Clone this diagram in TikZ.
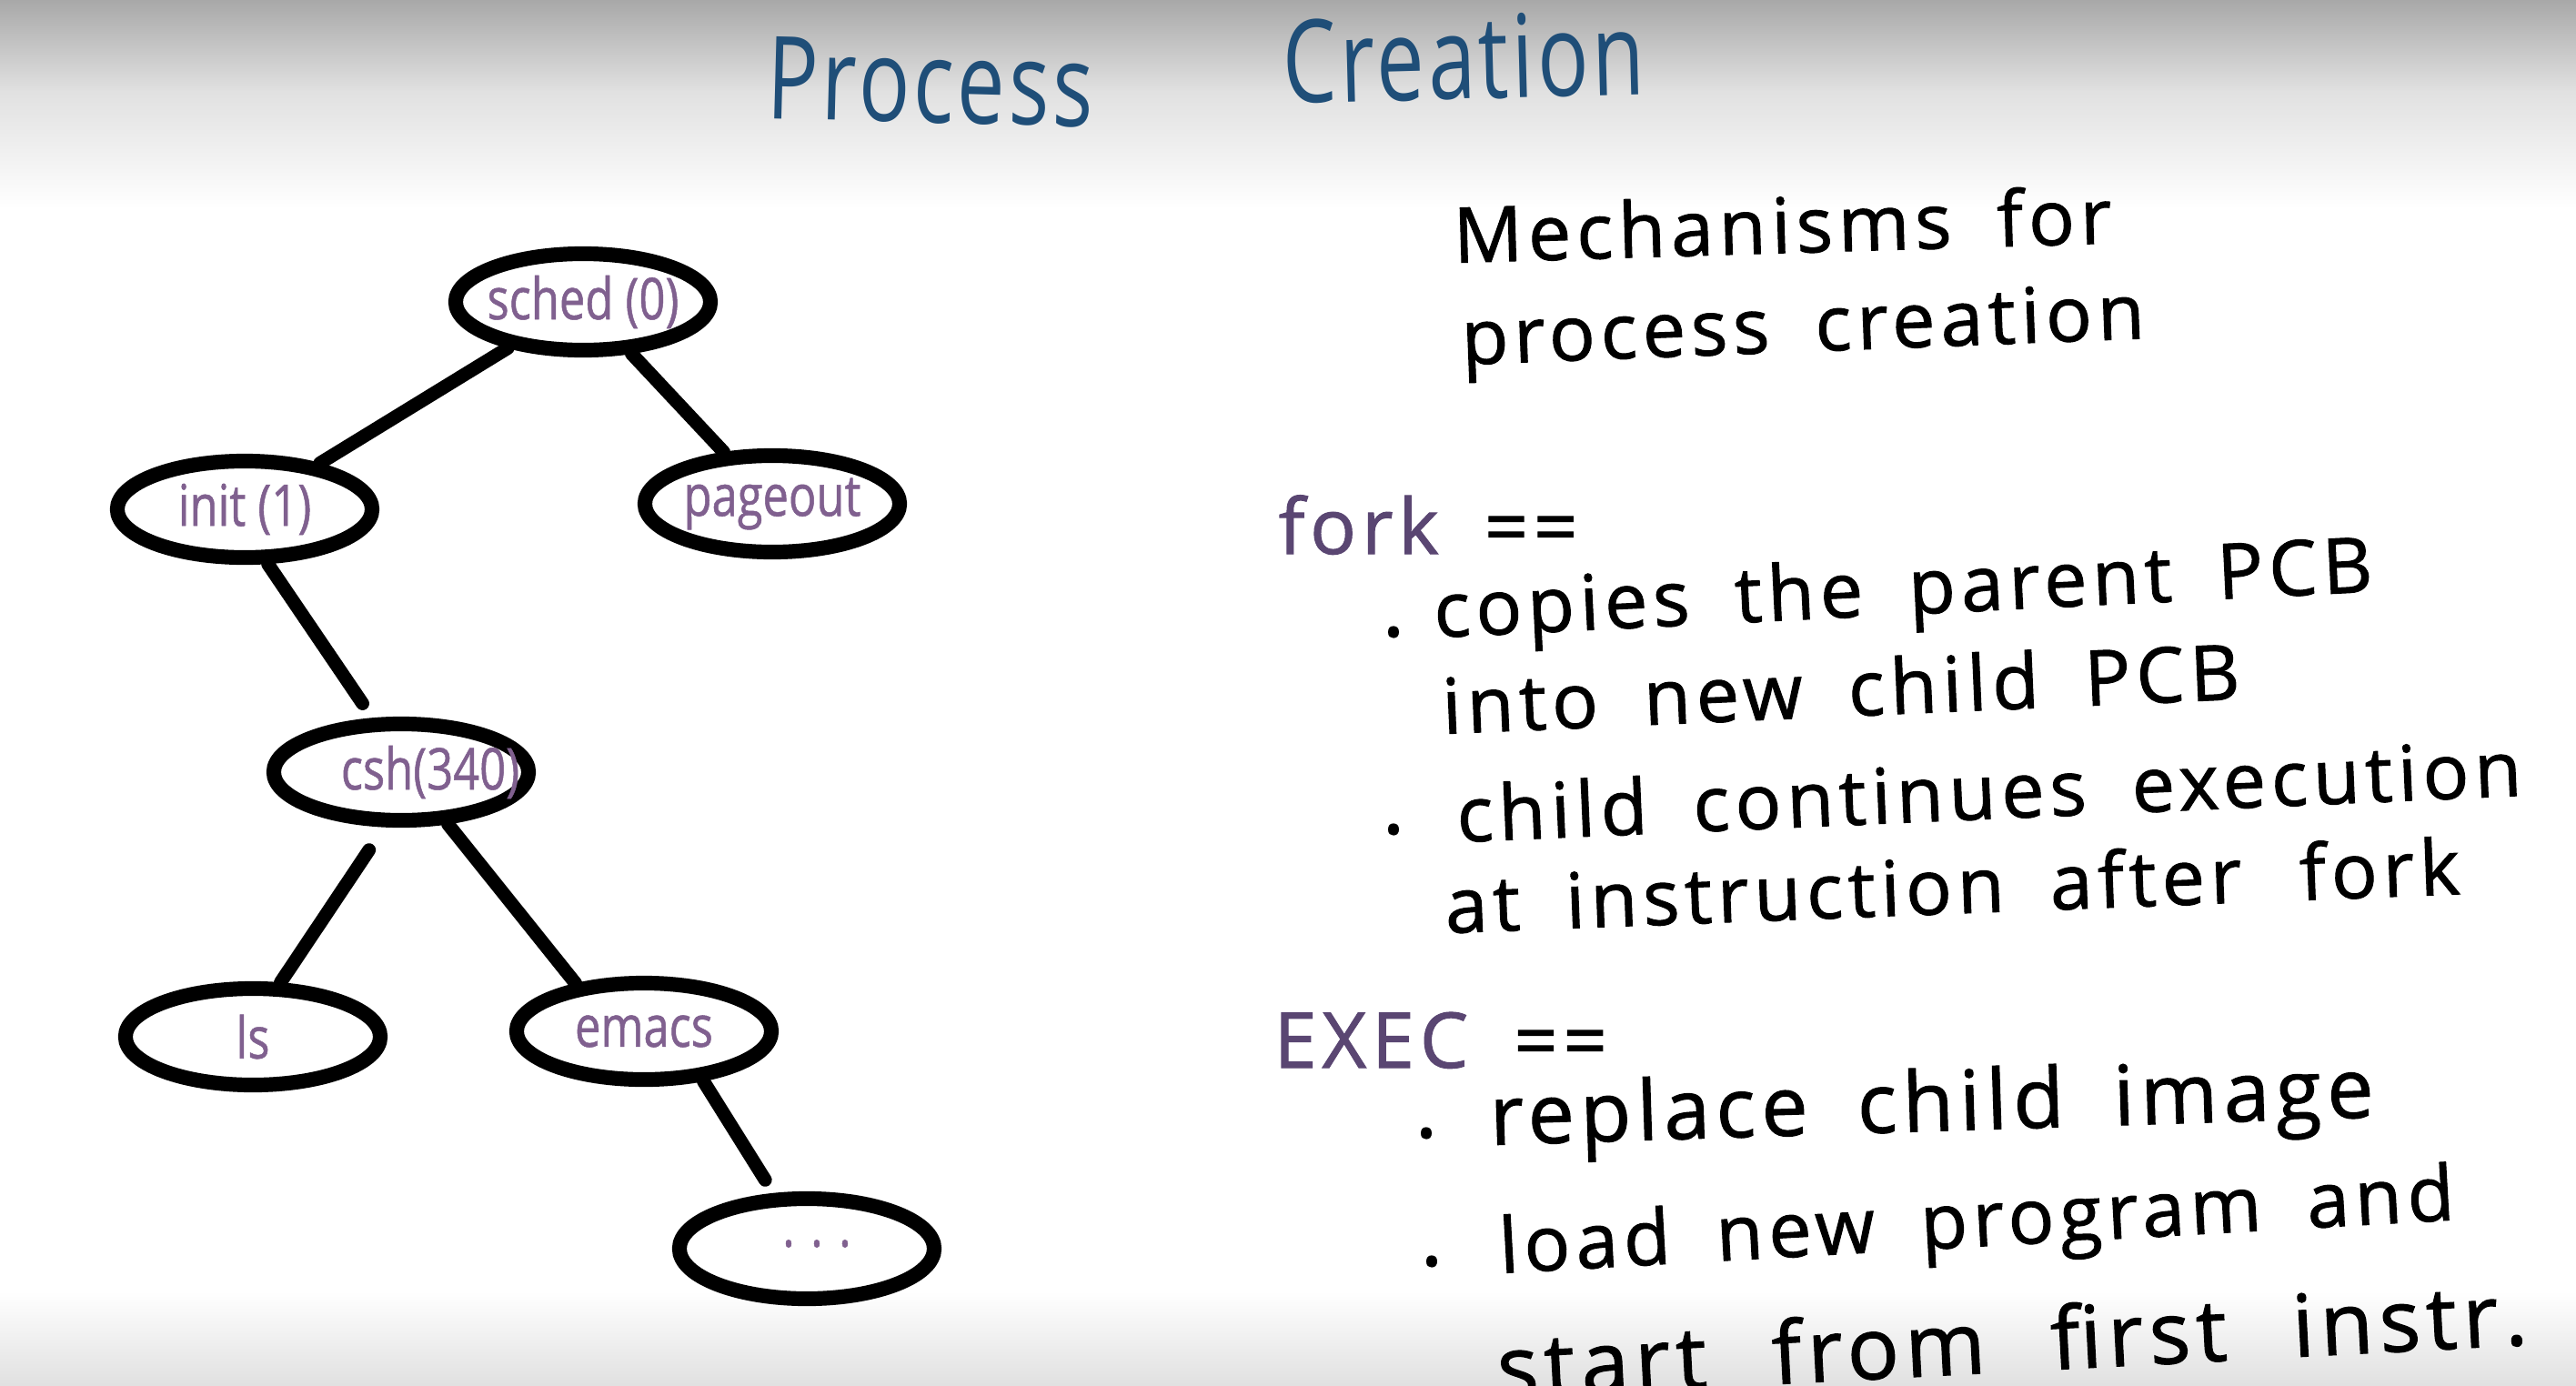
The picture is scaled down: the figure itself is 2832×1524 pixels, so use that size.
\documentclass[tikz,border=0pt]{standalone}
\usepackage{fontspec}
\setmainfont{Open Sans}
\newfontfamily\handfont[LetterSpace=7,WordSpace=1.8,FakeBold=1.2]{Open Sans}
\newfontfamily\titlefont[FakeStretch=0.74,LetterSpace=3]{Open Sans}
\newfontfamily\nodefont[FakeStretch=0.8,FakeBold=0.8]{Open Sans}
\usetikzlibrary{shapes.geometric,calc}
\definecolor{titleblue}{HTML}{1F4E78}
\definecolor{labelpurple}{HTML}{80608F}
\definecolor{keypurple}{HTML}{5A4672}
\newcommand\plabel[1]{\makebox[0pt]{#1}}
\begin{document}
\begin{tikzpicture}[x=0.01cm,y=-0.01cm,
  proc/.style={ellipse, draw=black, line width=4.6pt, minimum width=2.80cm,
    minimum height=1.06cm, inner sep=0pt,
    font=\nodefont\fontsize{18}{18}\selectfont, text=labelpurple},
  edge/.style={line width=4.2pt, line cap=round},
  body/.style={anchor=base west, inner sep=0pt,
    font=\handfont\fontsize{24}{24}\selectfont, text=black},
  bodybig/.style={body, font=\handfont\fontsize{26}{26}\selectfont},
  bulletdot/.style={anchor=center, inner sep=0pt,
    font=\handfont\fontsize{26}{26}\selectfont, text=black},
  heading/.style={anchor=base west, inner sep=0pt,
    font=\titlefont\fontsize{36}{36}\selectfont, text=titleblue}]
\useasboundingbox (0,0) rectangle (2832,1524);
\clip (0,0) rectangle (2832,1524);
\fill[white] (0,0) rectangle (2832,1524);
\begin{scope}[y=0.01cm]
  \fill[top color=black!34, bottom color=black!12] (0,0) rectangle (2832,-100);
  \fill[top color=black!12, bottom color=white] (0,-99) rectangle (2832,-230);
  \fill[top color=white, bottom color=black!12] (0,-1420) rectangle (2832,-1524);
\end{scope}

% title
\node[heading, rotate=-1.5] (t1) at (842,130) {Process};
\node[heading, rotate=1.5] (t2) at (1411,114) {Creation};

% tree
\node[proc] (sched) at (641,332) {\plabel{sched (0)}};
\node[proc] (init) at (269,560) {\plabel{init (1)}};
\node[proc] (pageout) at (849,554) {\plabel{pageout}};
\node[proc] (csh) at (441,849) {\plabel{\hspace{0.64cm}csh(340)}};
\node[proc] (ls) at (278,1140) {\plabel{ls}};
\node[proc] (emacs) at (708,1134) {\plabel{emacs}};
\node[proc, minimum height=1.10cm] (dots) at (887,1373) {\plabel{\hspace{0.22cm}\raisebox{0.12cm}{. . .}}};

\draw[edge] (sched) -- (init);
\draw[edge] (sched) -- (pageout);
\draw[edge, shorten >=0.19cm] (init.293) -- (csh.118);
\draw[edge, shorten <=0.3cm] (csh.253) -- (ls.63);
\draw[edge] (csh.312) -- (emacs.145);
\draw[edge, shorten >=0.17cm] (emacs.320) -- (dots.121);

% right text
\node[body, rotate=1.7] (m1) at (1598,289) {Mechanisms for};
\node[body, rotate=2.2] (m2) at (1607,401) {process creation};

\node[body] (fork) at (1405,609) {\textcolor{keypurple}{fork} ==};
\node[bulletdot] (b1) at (1532,695) {.};
\node[body, rotate=2.8] (f1) at (1577,701) {copies the parent PCB};
\node[body, rotate=2.5] (f2) at (1586,807) {into new child PCB};
\node[bulletdot] (b2) at (1532,912) {.};
\node[body, rotate=2.5] (f3) at (1602,926) {child continues execution};
\node[body, rotate=2.2] (f4) at (1589,1026) {at instruction after \,fork};

\node[body] (exec) at (1400,1174) {\textcolor{keypurple}{EXEC} ==};
\node[bulletdot] (b3) at (1568,1246) {.};
\node[bodybig, rotate=1.8] (e1) at (1638,1259) {replace child image};
\node[bulletdot] (b4) at (1574,1387) {.};
\node[body, rotate=3.2] (e2) at (1649,1400) {load new program and};
\node[bodybig, rotate=3, font=\handfont\fontsize{27}{27}\selectfont] (e3) at (1647,1538) {start \,from \,first \,instr.};
\end{tikzpicture}
\end{document}
